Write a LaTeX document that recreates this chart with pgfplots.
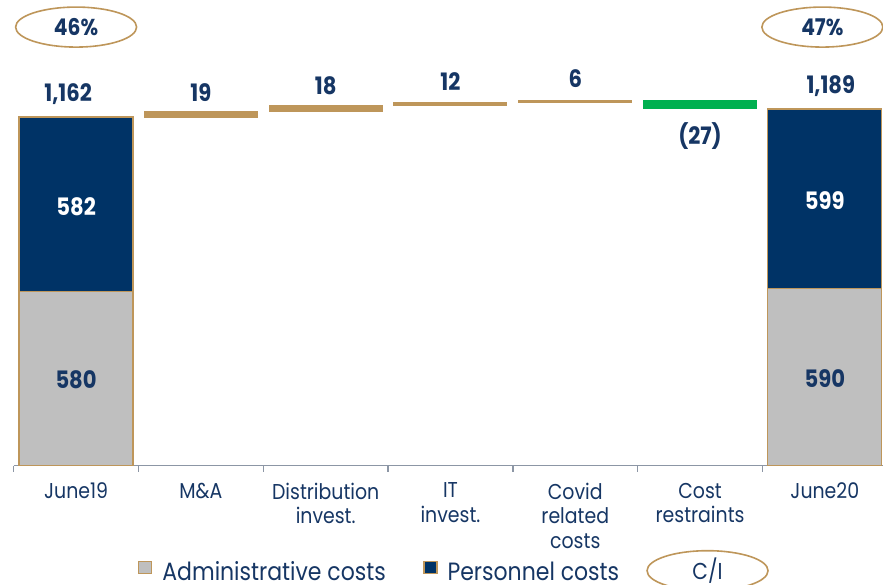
\documentclass[border=0pt]{standalone}
\usepackage{fontspec}
\setmainfont{Poppins}[FakeStretch=0.88]
\usepackage{pgfplots}
\pgfplotsset{compat=1.18}
\usetikzlibrary{shapes.geometric}
\definecolor{gold}{RGB}{190,150,90}
\definecolor{navy}{RGB}{0,51,102}
\definecolor{lgray}{RGB}{191,191,191}
\definecolor{cgreen}{RGB}{0,176,80}
\definecolor{axgray}{RGB}{140,150,165}
\definecolor{txt}{RGB}{22,54,100}
\tikzset{
  lbl/.style={font=\fontsize{24}{28}\selectfont\bfseries, text=txt, inner sep=0pt},
  ell/.style={draw=gold, line width=1.6pt, ellipse, minimum width=121pt, minimum height=40pt, inner sep=0pt, text=txt},
}
\pgfplotsset{
  sqlegend/.style={legend image code/.code={\draw[##1, line width=1.2pt] (0pt,-1.5pt) rectangle (13pt,10.5pt);}},
  common/.style={
    width=869.3pt, height=465.7pt, scale only axis,
    xmin=-0.5, xmax=6.466, ymin=0, ymax=1552.3,
    at={(13.7pt,119.3pt)}, anchor=south west,
    clip=false,
  },
}
\begin{document}
\begin{tikzpicture}[x=1pt,y=1pt]
\begin{axis}[common,
  axis x line*=bottom, axis y line=none,
  axis line style={draw=axgray, line width=1.5pt, -},
  xtick={0,...,6},
  xticklabels={June19, M\&A, {Distribution\\invest.}, {IT\\invest.}, {Covid\\related\\costs}, {Cost\\restraints}, June20},
  xticklabel style={align=center, font=\fontsize{21.5}{24.5}\selectfont, text=txt, anchor=north, inner sep=0pt, yshift=-17pt},
  major tick length=0pt,
  minor xtick={-0.5,0.5,...,5.5},
  minor tick length=6pt,
  tick align=outside,
  minor tick style={draw=axgray, line width=1.5pt},
  ytick=\empty,
  ybar stacked, bar width=114pt,
  legend style={draw=none, fill=none, at={(axis cs:0.496,-354)}, anchor=west, inner sep=0pt,
    font=\fontsize{25}{25}\selectfont, text=txt, legend columns=2},
]
\addplot[fill=lgray, draw=gold, line width=1.2pt, sqlegend]
  coordinates {(0,580)(6,590)};
\addlegendentry{\makebox[267pt][l]{\hspace*{8pt}Administrative costs}}
\addplot[fill=navy, draw=gold, line width=1.2pt, sqlegend]
  coordinates {(0,582)(6,599)};
\addlegendentry{\makebox[190pt][l]{\hspace*{8pt}Personnel costs}}
\end{axis}
% increases (gold)
\begin{axis}[common, axis lines=none, xtick=\empty, ytick=\empty,
  ybar stacked, bar width=113pt]
\addplot[draw=none, fill=none] coordinates {(1,1162)(2,1181)(3,1199)(4,1211)};
\addplot[fill=gold, draw=gold, line width=1pt] coordinates {(1,19)(2,18)(3,12)(4,6)};
\end{axis}
% decrease (green)
\begin{axis}[common, axis lines=none, xtick=\empty, ytick=\empty,
  ybar stacked, bar width=113pt]
\addplot[draw=none, fill=none] coordinates {(5,1190)};
\addplot[fill=cgreen, draw=cgreen, line width=1pt] coordinates {(5,27)};
% labels
\node[lbl, anchor=base, yshift=16pt, xshift=-8pt] at (axis cs:0,1162) {1,162};
\node[lbl, anchor=base, yshift=15pt, xshift=6pt] at (axis cs:6,1189) {1,189};
\node[lbl, text=white] at (axis cs:0,863) {582};
\node[lbl] at (axis cs:0,287) {580};
\node[lbl, text=white] at (axis cs:6,883) {599};
\node[lbl] at (axis cs:6,290) {590};
\node[lbl, anchor=base, yshift=10pt] at (axis cs:1,1181) {19};
\node[lbl, anchor=base, yshift=11pt] at (axis cs:2,1199) {18};
\node[lbl, anchor=base, yshift=12pt] at (axis cs:3,1211) {12};
\node[lbl, anchor=base, yshift=13pt] at (axis cs:4,1217) {6};
\node[lbl, anchor=north, yshift=-14pt] at (axis cs:5,1190) {(27)};
% C/I ellipses
\node[ell, font=\fontsize{23}{24}\selectfont\bfseries] at (axis cs:0,1462) {46\%};
\node[ell, font=\fontsize{23}{24}\selectfont\bfseries] at (axis cs:5.98,1462) {47\%};
\node[ell, font=\fontsize{23}{24}\selectfont] at (axis cs:5.06,-350) {C/I};
\end{axis}
\pgfresetboundingbox
\path[use as bounding box] (0,0) rectangle (883pt,585pt);
\end{tikzpicture}
\end{document}
